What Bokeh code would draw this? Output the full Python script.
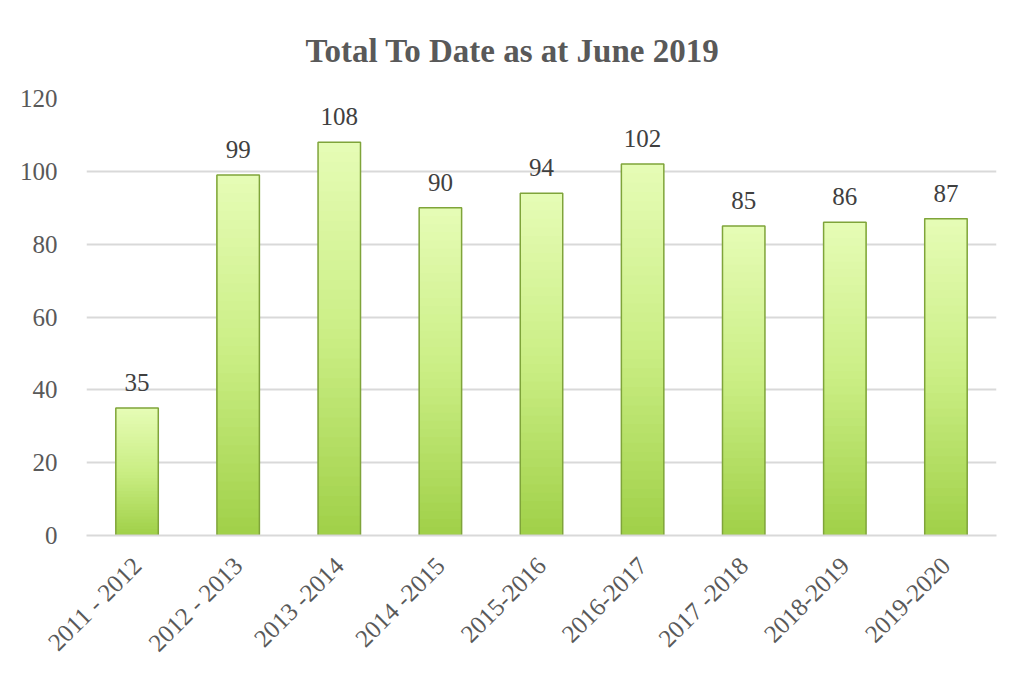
from bokeh.plotting import figure
from bokeh.models import Range1d, ColumnDataSource, LabelSet, Title
from bokeh.embed import file_html
from bokeh.resources import INLINE
import math

categories = ["2011 - 2012", "2012 - 2013", "2013 -2014", "2014 -2015", "2015-2016",
              "2016-2017", "2017 -2018", "2018-2019", "2019-2020"]
values = [35, 99, 108, 90, 94, 102, 85, 86, 87]
y_ticks = [0, 20, 40, 60, 80, 100, 120]
title_text = "Total To Date as at June 2019"

FONT = "Liberation Serif"
BAR_W = 0.42

p = figure(x_range=categories, y_range=Range1d(0, 120), width=1000, height=669,
           output_backend="svg", toolbar_location=None,
           min_border_left=86, min_border_right=4, min_border_top=97, min_border_bottom=132)

t = Title(text=title_text, align="left", offset=219, text_font=FONT, text_font_size="33px",
          text_font_style="bold", text_color="#595959", standoff=60)
p.add_layout(t, "above")

# gradient bars: overlapping segments of each value, lighter towards the top
N = 40
def lerp(c1, c2, f):
    f = max(0.0, min(1.0, f))
    return "#%02x%02x%02x" % tuple(int(round(a + (b - a) * f)) for a, b in zip(c1, c2))
bottom_c = (0xa0, 0xd0, 0x48)
mid_c = (0xca, 0xee, 0x84)
top_c = (0xe6, 0xfc, 0xb6)
xs, bots, tops, cols = [], [], [], []
for c, v in zip(categories, values):
    for k in range(N):
        f = (k + 0.5) / N
        col = lerp(bottom_c, mid_c, f / 0.5) if f < 0.5 else lerp(mid_c, top_c, (f - 0.5) / 0.5)
        xs.append(c)
        bots.append(v * k / N)
        tops.append(v)
        cols.append(col)
p.vbar(x=xs, bottom=bots, top=tops, width=BAR_W, fill_color=cols, line_color=None)

src = ColumnDataSource(dict(x=categories, top=values, label=[str(v) for v in values]))
p.vbar(x="x", top="top", width=BAR_W, source=src, fill_color=None,
       line_color="#7fa43a", line_width=1.5)

labels = LabelSet(x="x", y="top", text="label", source=src, y_offset=17,
                  text_align="center", text_baseline="bottom", text_font=FONT,
                  text_font_size="25px", text_color="#404040")
p.add_layout(labels)

p.yaxis.ticker = y_ticks
p.yaxis.axis_line_color = None
p.yaxis.major_tick_line_color = None
p.yaxis.minor_tick_line_color = None
p.yaxis.major_label_text_font = FONT
p.yaxis.major_label_text_font_size = "25px"
p.yaxis.major_label_text_color = "#595959"
p.yaxis.major_label_standoff = 23

p.xaxis.axis_line_color = "#d9d9d9"
p.xaxis.axis_line_width = 2
p.xaxis.major_tick_line_color = None
p.xaxis.minor_tick_line_color = None
p.xaxis.major_label_orientation = math.pi / 4
p.xaxis.major_label_text_font = FONT
p.xaxis.major_label_text_font_size = "25px"
p.xaxis.major_label_text_color = "#595959"
p.xaxis.major_label_standoff = 20

p.xgrid.grid_line_color = None
p.ygrid.grid_line_color = "#d9d9d9"
p.ygrid.grid_line_width = 2
p.x_range.range_padding = 0

p.outline_line_color = None
p.border_fill_color = "white"
p.background_fill_color = "white"

open("out.html", "w").write(file_html(p, INLINE))
